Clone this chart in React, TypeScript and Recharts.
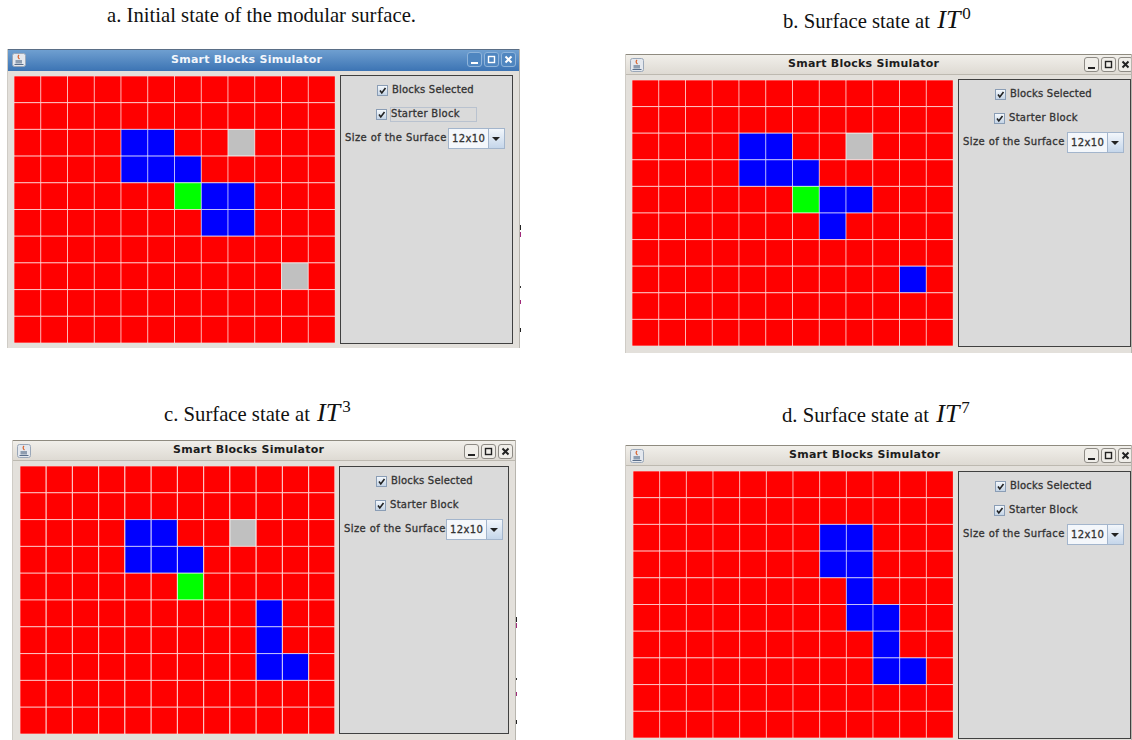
import { Bar, BarChart, Cell, XAxis, YAxis } from "recharts";

// r = idle cell, b = selected block, g = obstacle, s = starter block
const surfaceA = [
  "rrrrrrrrrrrr",
  "rrrrrrrrrrrr",
  "rrrrbbrrgrrr",
  "rrrrbbbrrrrr",
  "rrrrrrsbbrrr",
  "rrrrrrrbbrrr",
  "rrrrrrrrrrrr",
  "rrrrrrrrrrgr",
  "rrrrrrrrrrrr",
  "rrrrrrrrrrrr",
];
const surfaceB = [
  "rrrrrrrrrrrr",
  "rrrrrrrrrrrr",
  "rrrrbbrrgrrr",
  "rrrrbbbrrrrr",
  "rrrrrrsbbrrr",
  "rrrrrrrbrrrr",
  "rrrrrrrrrrrr",
  "rrrrrrrrrrbr",
  "rrrrrrrrrrrr",
  "rrrrrrrrrrrr",
];
const surfaceC = [
  "rrrrrrrrrrrr",
  "rrrrrrrrrrrr",
  "rrrrbbrrgrrr",
  "rrrrbbbrrrrr",
  "rrrrrrsrrrrr",
  "rrrrrrrrrbrr",
  "rrrrrrrrrbrr",
  "rrrrrrrrrbbr",
  "rrrrrrrrrrrr",
  "rrrrrrrrrrrr",
];
const surfaceD = [
  "rrrrrrrrrrrr",
  "rrrrrrrrrrrr",
  "rrrrrrrbbrrr",
  "rrrrrrrbbrrr",
  "rrrrrrrrbrrr",
  "rrrrrrrrbbrr",
  "rrrrrrrrrbrr",
  "rrrrrrrrrbbr",
  "rrrrrrrrrrrr",
  "rrrrrrrrrrrr",
];

const columns = [0, 1, 2, 3, 4, 5, 6, 7, 8, 9, 10, 11];
const rows = [0, 1, 2, 3, 4, 5, 6, 7, 8, 9];
const cellColors: Record<string, string> = {
  r: "#ff0000",
  b: "#0000ff",
  g: "#c0c0c0",
  s: "#00ff00",
};

const chartData = columns.map((col) => {
  const entry: Record<string, number> = { col };
  rows.forEach((row) => {
    entry[`row${row}`] = 1;
  });
  return entry;
});

function SurfaceGrid({ surface, width, height }: { surface: string[]; width: number; height: number }) {
  return (
    <BarChart
      width={width}
      height={height}
      data={chartData}
      margin={{ top: 0, right: 0, bottom: 0, left: 0 }}
      barCategoryGap={0}
      barGap={0}
    >
      <XAxis dataKey="col" type="category" hide />
      <YAxis type="number" domain={[0, 10]} reversed hide />
      {rows.map((row) => (
        <Bar key={row} dataKey={`row${row}`} stackId="surface" isAnimationActive={false}>
          {columns.map((col) => (
            <Cell
              key={col}
              fill={cellColors[surface[row][col]]}
              stroke="#ffffff"
              strokeOpacity={0.6}
              strokeWidth={1}
            />
          ))}
        </Bar>
      ))}
    </BarChart>
  );
}

const uiFont = "'DejaVu Sans', sans-serif";

function box(left: number, top: number, width: number, height: number): React.CSSProperties {
  return { position: "absolute", left, top, width, height, boxSizing: "border-box" };
}

function CheckBox({ left, top }: { left: number; top: number }) {
  return (
    <div
      style={{
        ...box(left, top, 11, 11),
        background: "linear-gradient(#f4f8fc, #c4d4e6)",
        border: "1px solid #8a9db5",
      }}
    >
      <svg width="9" height="9" style={{ display: "block" }}>
        <path d="M2 4.5 L3.8 7 L7.5 2" fill="none" stroke="#222" strokeWidth="1.6" />
      </svg>
    </div>
  );
}

function TitleButton({ left, top, glyph, blue }: { left: number; top: number; glyph: string; blue: boolean }) {
  const color = blue ? "#ffffff" : "#222222";
  return (
    <div
      style={{
        ...box(left, top, 15, 15),
        borderRadius: 3,
        border: blue ? "1px solid #8fb4da" : "1px solid #8d8a84",
        background: blue ? "#4f86c0" : "#f0eee9",
      }}
    >
      <svg width="13" height="13" style={{ display: "block" }}>
        {glyph === "min" && <rect x="3" y="9" width="7" height="2" fill={color} />}
        {glyph === "max" && <rect x="3.5" y="3.5" width="6" height="6" fill="none" stroke={color} strokeWidth="1.4" />}
        {glyph === "close" && <path d="M3.5 3.5 L9.5 9.5 M9.5 3.5 L3.5 9.5" stroke={color} strokeWidth="2" />}
      </svg>
    </div>
  );
}

type Layout = {
  surface: string[];
  winX: number;
  winY: number;
  winW: number;
  winH: number;
  titleH: number;
  blue?: boolean;
  titleX: number;
  gridX: number;
  gridY: number;
  gridW: number;
  gridH: number;
  sideX: number;
  sideY: number;
  sideW: number;
  sideH: number;
  comboX: number;
  check: number;
  focus?: boolean;
  buttons: number[];
  buttonTop: number;
};

function SimulatorWindow(p: Layout) {
  const labelStyle: React.CSSProperties = {
    position: "absolute",
    fontFamily: uiFont,
    fontSize: 10,
    color: "#333333",
    whiteSpace: "nowrap",
    lineHeight: "14px",
    WebkitTextStroke: "0.3px #333333",
  };
  return (
    <div
      style={{
        ...box(p.winX, p.winY, p.winW, p.winH),
        background: "#e3e0db",
        overflow: "hidden",
        borderRight: "1px solid #b8b5ae",
        borderLeft: "1px solid #cfccc6",
      }}
    >
      <div
        style={{
          ...box(-1, 0, p.winW, p.titleH),
          background: p.blue ? "linear-gradient(#6f9fd0, #3c74b4)" : "linear-gradient(#f1efea, #dedad3)",
          borderTop: p.blue ? "1px solid #5a6e86" : "1px solid #8f8b80",
          borderBottom: p.blue ? "none" : "1px solid #bdb9b0",
        }}
      />
      <svg width="14" height="14" style={{ position: "absolute", left: 4, top: 4 }}>
        <rect x="0.5" y="0.5" width="13" height="13" rx="2" fill="#e4e8ee" stroke="#9aa7b8" />
        <path d="M7 2 Q5 4 7.5 6" fill="none" stroke="#d8602a" strokeWidth="1.2" />
        <rect x="3.5" y="7" width="6.5" height="3.5" fill="#8e9db0" />
        <rect x="2.5" y="11" width="9" height="1" fill="#5a6e8a" />
      </svg>
      <div
        style={{
          position: "absolute",
          left: p.titleX,
          top: 0,
          lineHeight: `${p.titleH - 1}px`,
          fontFamily: uiFont,
          fontSize: 11,
          fontWeight: 700,
          color: p.blue ? "#f2f6fb" : "#1c1c1c",
          whiteSpace: "nowrap",
          letterSpacing: 0.25,
        }}
      >
        Smart Blocks Simulator
      </div>
      <TitleButton left={p.buttons[0]} top={p.buttonTop} glyph="min" blue={!!p.blue} />
      <TitleButton left={p.buttons[1]} top={p.buttonTop} glyph="max" blue={!!p.blue} />
      <TitleButton left={p.buttons[2]} top={p.buttonTop} glyph="close" blue={!!p.blue} />
      <div style={box(p.gridX - p.winX - 1, p.gridY - p.winY, p.gridW, p.gridH)}>
        <SurfaceGrid surface={p.surface} width={p.gridW} height={p.gridH} />
      </div>
      <div
        style={{
          ...box(p.sideX - p.winX - 1, p.sideY - p.winY, p.sideW, p.sideH),
          background: "#dadada",
          border: "1px solid #404040",
        }}
      >
        <CheckBox left={p.check} top={9} />
        <div style={{ ...labelStyle, left: p.check + 15, top: 7, letterSpacing: 0.2 }}>Blocks Selected</div>
        <CheckBox left={p.check - 1} top={33} />
        {p.focus && <div style={{ ...box(p.check + 13, 31, 87, 15), border: "1px solid #b9c2cf" }} />}
        <div style={{ ...labelStyle, left: p.check + 14, top: 31, letterSpacing: 0.3 }}>Starter Block</div>
        <div style={{ ...labelStyle, left: 4, top: 55, letterSpacing: 0.4 }}>Size of the Surface</div>
        <div
          style={{
            ...box(p.comboX, 52, 57, 21),
            background: "#f4f7fb",
            border: "1px solid #a3b5cc",
          }}
        >
          <div style={{ ...labelStyle, left: 3, top: 3, letterSpacing: 0.4 }}>12x10</div>
          <div
            style={{
              ...box(39, 0, 16, 19),
              background: "linear-gradient(#f2f6fb, #c5d6ea)",
              borderLeft: "1px solid #a3b5cc",
            }}
          >
            <svg width="15" height="19" style={{ display: "block" }}>
              <path d="M3 8 L11 8 L7 12 Z" fill="#222" />
            </svg>
          </div>
        </div>
      </div>
    </div>
  );
}

function Caption({
  left,
  baseline,
  text,
  power,
}: {
  left: number;
  baseline: number;
  text: string;
  power?: string;
}) {
  return (
    <div
      style={{
        position: "absolute",
        left,
        top: baseline - (power !== undefined ? 24 : 22),
        height: 30,
        lineHeight: "30px",
        fontFamily: "'Liberation Serif', serif",
        fontSize: 20.7,
        color: "#111",
        whiteSpace: "nowrap",
      }}
    >
      {text}
      {power !== undefined && (
        <span>
          {" "}
          <span style={{ fontStyle: "italic", fontSize: 26, marginLeft: 2 }}>IT</span>
          <span style={{ fontSize: 17, position: "relative", top: -9, left: 2 }}>{power}</span>
        </span>
      )}
    </div>
  );
}

const windows: Layout[] = [
  {
    surface: surfaceA, winX: 7, winY: 49, winW: 513, winH: 299, titleH: 22, blue: true, titleX: 163,
    gridX: 14, gridY: 76, gridW: 321, gridH: 267, sideX: 340, sideY: 75, sideW: 173, sideH: 269,
    comboX: 107, check: 36, focus: true, buttons: [459, 476, 493], buttonTop: 3,
  },
  {
    surface: surfaceB, winX: 625, winY: 54, winW: 507, winH: 299, titleH: 21, titleX: 162,
    gridX: 632, gridY: 80, gridW: 321, gridH: 266, sideX: 958, sideY: 79, sideW: 173, sideH: 268,
    comboX: 108, check: 36, buttons: [458, 475, 492], buttonTop: 3,
  },
  {
    surface: surfaceC, winX: 12, winY: 440, winW: 504, winH: 300, titleH: 21, titleX: 160,
    gridX: 20, gridY: 466, gridW: 315, gridH: 268, sideX: 339, sideY: 466, sideW: 170, sideH: 268,
    comboX: 106, check: 36, buttons: [451, 468, 485], buttonTop: 4,
  },
  {
    surface: surfaceD, winX: 625, winY: 445, winW: 507, winH: 295, titleH: 21, titleX: 163,
    gridX: 633, gridY: 471, gridW: 320, gridH: 267, sideX: 958, sideY: 471, sideW: 173, sideH: 268,
    comboX: 108, check: 36, buttons: [458, 475, 492], buttonTop: 3,
  },
];

// specks left over from the screenshot crops, just right of windows a and c
const specks = [
  { x: 520, y: 225, h: 5, color: "#222222" },
  { x: 520, y: 232, h: 5, color: "#a02a7a" },
  { x: 520, y: 286, h: 2, color: "#333333" },
  { x: 520, y: 300, h: 4, color: "#a02a7a" },
  { x: 520, y: 328, h: 4, color: "#222222" },
  { x: 516, y: 617, h: 5, color: "#222222" },
  { x: 516, y: 623, h: 5, color: "#a02a7a" },
  { x: 516, y: 678, h: 2, color: "#333333" },
  { x: 516, y: 692, h: 4, color: "#a02a7a" },
  { x: 516, y: 720, h: 4, color: "#222222" },
];

export default function App() {
  return (
    <div style={{ position: "absolute", left: 0, top: 0, width: 1132, height: 740, background: "#fff", overflow: "hidden" }}>
      <Caption left={107} baseline={22} text="a. Initial state of the modular surface." />
      <Caption left={783} baseline={29} text="b. Surface state at" power="0" />
      <Caption left={164} baseline={422} text="c. Surface state at" power="3" />
      <Caption left={782} baseline={423} text="d. Surface state at" power="7" />
      {windows.map((w) => (
        <SimulatorWindow key={w.winX + "-" + w.winY} {...w} />
      ))}
      {specks.map((s) => (
        <div key={s.y} style={{ ...box(s.x, s.y, 1, s.h), background: s.color }} />
      ))}
    </div>
  );
}
